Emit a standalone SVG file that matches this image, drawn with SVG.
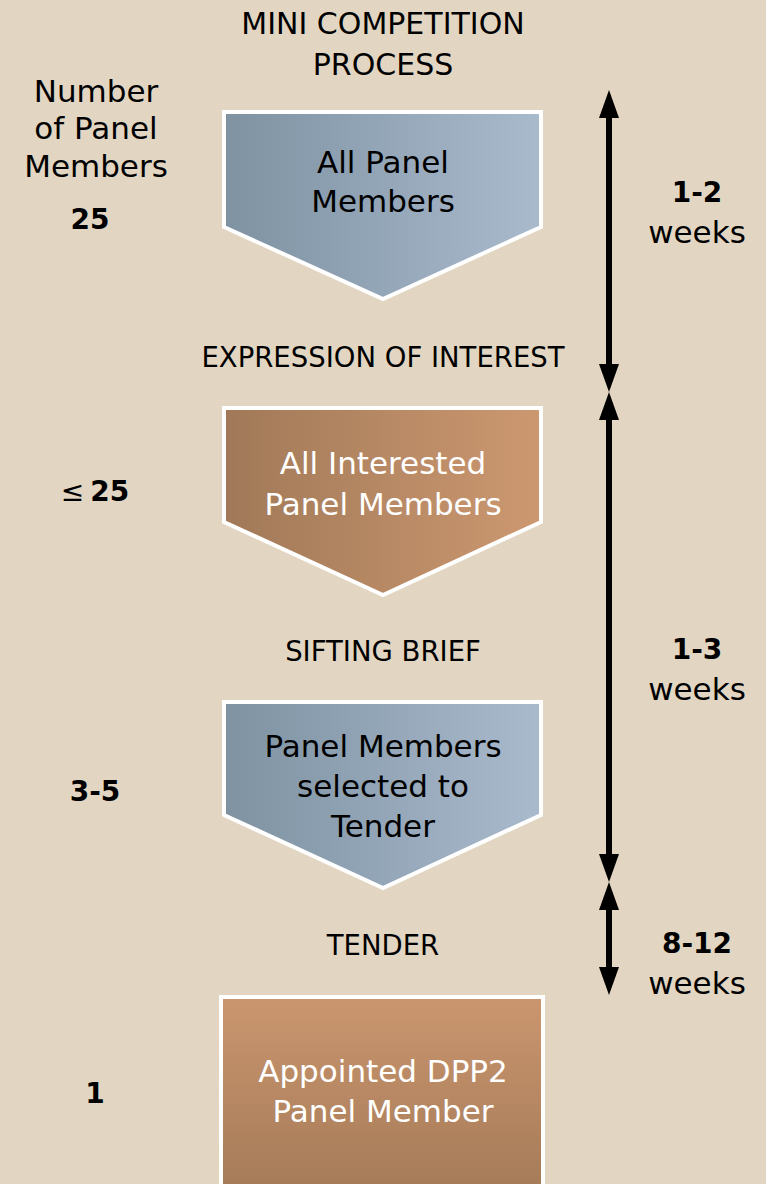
<svg xmlns="http://www.w3.org/2000/svg" width="766" height="1184" viewBox="0 0 766 1184">
<defs>
<linearGradient id="blue" x1="0" y1="0" x2="1" y2="0"><stop offset="0" stop-color="#7E92A2"/><stop offset="1" stop-color="#A9BACC"/></linearGradient>
<linearGradient id="brown" x1="0" y1="0" x2="1" y2="0"><stop offset="0" stop-color="#A17958"/><stop offset="1" stop-color="#CC9870"/></linearGradient>
<linearGradient id="brownv" x1="0" y1="0" x2="0" y2="1"><stop offset="0" stop-color="#CA966F"/><stop offset="1" stop-color="#A47A57"/></linearGradient>
<style>
text{font-family:"DejaVu Sans","Liberation Sans",sans-serif;text-anchor:middle}
.t{font-size:30px;fill:#000}
.m{font-size:27.5px;fill:#000}
.n{font-size:31px;fill:#000}
.nw{font-size:31px;fill:#fff}
.b{font-size:28px;font-weight:bold;fill:#000}
.w{font-size:31px;fill:#000}
.shape{stroke:#fff;stroke-width:4;stroke-linejoin:miter}
.ax{fill:#000}
</style>
</defs>
<rect width="766" height="1184" fill="#E2D6C2"/>
<g id="title">
<text class="t" x="383" y="34">MINI COMPETITION</text>
<text class="t" x="383" y="75">PROCESS</text>
</g>
<g id="left-header">
<text class="w" x="96" y="102">Number</text>
<text class="w" x="96" y="139">of Panel</text>
<text class="w" x="96" y="177">Members</text>
</g>
<g id="count1"><text class="b" x="90" y="229">25</text></g>
<g id="count2"><text x="95" y="501"><tspan style="font-size:28px" fill="#000">≤</tspan><tspan class="b" dx="6">25</tspan></text></g>
<g id="count3"><text class="b" x="95" y="801">3-5</text></g>
<g id="count4"><text class="b" x="95" y="1103">1</text></g>

<g id="node1">
<path class="shape" fill="url(#blue)" d="M224 112 H541 V227 L383 299 L224 227 Z"/>
<text class="n" x="383" y="173">All Panel</text>
<text class="n" x="383" y="212">Members</text>
</g>
<g id="label1"><text class="m" x="383" y="367">EXPRESSION OF INTEREST</text></g>
<g id="node2">
<path class="shape" fill="url(#brown)" d="M224 408 H541 V522 L383 595 L224 522 Z"/>
<text class="nw" x="383" y="474">All Interested</text>
<text class="nw" x="383" y="515">Panel Members</text>
</g>
<g id="label2"><text class="m" x="383" y="661">SIFTING BRIEF</text></g>
<g id="node3">
<path class="shape" fill="url(#blue)" d="M224 702 H541 V815 L383 888 L224 815 Z"/>
<text class="n" x="383" y="757">Panel Members</text>
<text class="n" x="383" y="797">selected to</text>
<text class="n" x="383" y="837">Tender</text>
</g>
<g id="label3"><text class="m" x="383" y="955">TENDER</text></g>
<g id="node4">
<rect class="shape" fill="url(#brownv)" x="221" y="997" width="322" height="200"/>
<text class="nw" x="383" y="1082">Appointed DPP2</text>
<text class="nw" x="383" y="1122">Panel Member</text>
</g>

<g id="connectors">
<rect class="ax" x="606" y="110" width="6" height="262"/>
<polygon class="ax" points="609,90 599,118 619,118"/>
<polygon class="ax" points="609,392 599,364 619,364"/>
<rect class="ax" x="606" y="412" width="6" height="450"/>
<polygon class="ax" points="609,392 599,420 619,420"/>
<polygon class="ax" points="609,882 599,854 619,854"/>
<rect class="ax" x="606" y="902" width="6" height="73"/>
<polygon class="ax" points="609,882 599,910 619,910"/>
<polygon class="ax" points="609,995 599,967 619,967"/>
</g>
<g id="dur1"><text class="b" x="697" y="202">1-2</text><text class="w" x="697" y="243">weeks</text></g>
<g id="dur2"><text class="b" x="697" y="659">1-3</text><text class="w" x="697" y="700">weeks</text></g>
<g id="dur3"><text class="b" x="697" y="953">8-12</text><text class="w" x="697" y="994">weeks</text></g>
</svg>
